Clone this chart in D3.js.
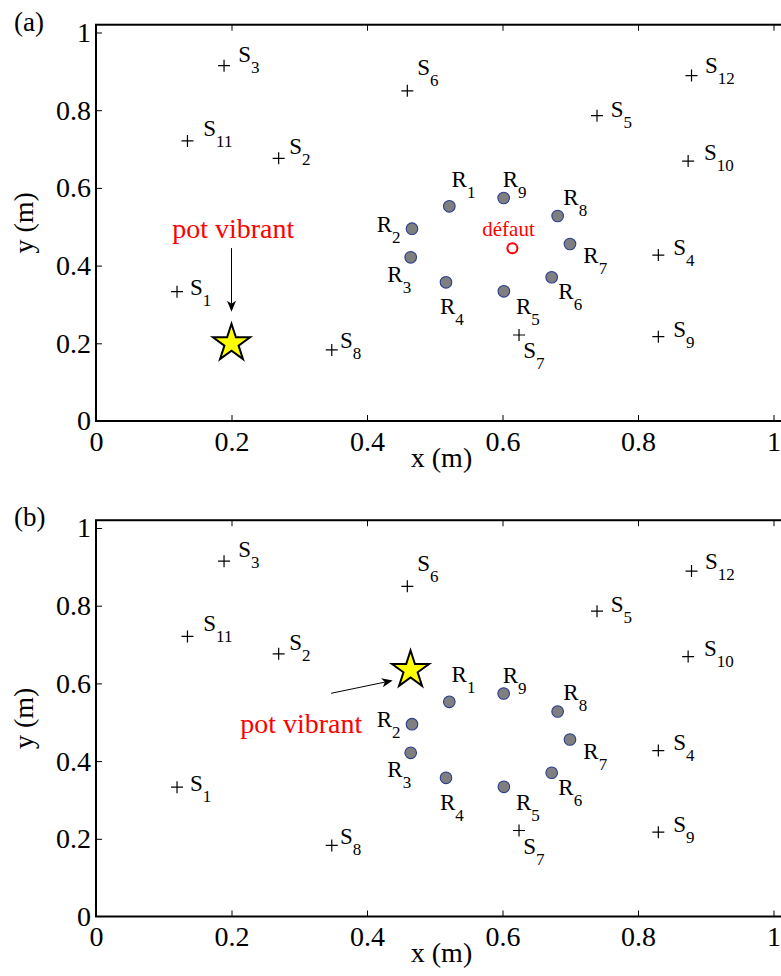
<!DOCTYPE html>
<html><head><meta charset="utf-8">
<script src="https://cdn.jsdelivr.net/npm/d3@7"></script>
<style>
html,body{margin:0;padding:0;background:#fff;}
svg{display:block;font-family:"Liberation Serif","Times New Roman",serif;}
</style></head>
<body>
<svg id="chart" width="781" height="976"></svg>
<script>
// ---- data ----
const tickValues = [0, 0.2, 0.4, 0.6, 0.8, 1];
const tickLabels = ["0", "0.2", "0.4", "0.6", "0.8", "1"];

const sourceNames = ["1","2","3","4","5","6","7","8","9","10","11","12"];
const sourceX = [0.1196, 0.2696, 0.189, 0.830, 0.7395, 0.4595, 0.6244, 0.348, 0.830, 0.874, 0.135, 0.879];
const sourceY = [0.333, 0.676, 0.9146, 0.427, 0.786, 0.850, 0.2214, 0.183, 0.217, 0.669, 0.721, 0.889];
const sourceLabelX = [0.1387, 0.2853, 0.2100, 0.8521, 0.7597, 0.4742, 0.6307, 0.3601, 0.8521, 0.8974, 0.1584, 0.8989];
const sourceLabelY = [0.3243, 0.6865, 0.9249, 0.4273, 0.7833, 0.8906, 0.1614, 0.1871, 0.2170, 0.6718, 0.7344, 0.8950];

const receiverNames = ["1","2","3","4","5","6","7","8","9"];
const receiverX = [0.5215, 0.4664, 0.4645, 0.5166, 0.602, 0.6726, 0.6996, 0.6814, 0.6017];
const receiverY = [0.5526, 0.495, 0.4213, 0.357, 0.3338, 0.370, 0.4556, 0.5277, 0.574];
const receiverLabelX = [0.5249, 0.4143, 0.4300, 0.5077, 0.6199, 0.6824, 0.7193, 0.6898, 0.6003];
const receiverLabelY = [0.6031, 0.4873, 0.3586, 0.2754, 0.2754, 0.3133, 0.4059, 0.5560, 0.6015];

const defectXY = [0.6146, 0.4445];
const defectLabelXY = [0.6089, 0.4762];

const panelNames = ["(a)", "(b)"];
const shakerX = [0.2, 0.4643];
const shakerY = [0.2, 0.6345];
const shakerLabelX = [0.2026, 0.303];
const shakerLabelY = [0.471, 0.472];
const arrowTailX = [0.2, 0.347];
const arrowTailY = [0.445, 0.5745];
const arrowTipX = [0.2, 0.438];
const arrowTipY = [0.281, 0.6075];

// ---- layout ----
const svg = d3.select("#chart");
const xRange = [96, 96 + 677.5 * 1.02];
const panelBottoms = [421, 916.5];
const unitY = 388.5;
const x = d3.scaleLinear().domain([0, 1.02]).range(xRange);

panelNames.forEach((pname, p) => {
  const y0 = panelBottoms[p];
  const y = d3.scaleLinear().domain([0, 1.02]).range([y0, y0 - unitY * 1.02]);
  const g = svg.append("g");

  // axes ticks (inward)
  const fmt = (d) => tickLabels[tickValues.indexOf(d)];
  const axB = g.append("g").attr("transform", `translate(0,${y0})`)
    .call(d3.axisBottom(x).tickValues(tickValues).tickFormat(fmt).tickSizeInner(-6).tickSizeOuter(0).tickPadding(10));
  const axL = g.append("g").attr("transform", `translate(${xRange[0]},0)`)
    .call(d3.axisLeft(y).tickValues(tickValues).tickFormat(fmt).tickSizeInner(-6).tickSizeOuter(0).tickPadding(5));
  const axT = g.append("g").attr("transform", `translate(0,${y(1.02)})`)
    .call(d3.axisTop(x).tickValues(tickValues).tickFormat("").tickSizeInner(-6).tickSizeOuter(0));
  const axR = g.append("g").attr("transform", `translate(${xRange[1]},0)`)
    .call(d3.axisRight(y).tickValues(tickValues).tickFormat("").tickSizeInner(-6).tickSizeOuter(0));
  [axB, axL, axT, axR].forEach(a => {
    a.select(".domain").remove();
    a.selectAll("line").attr("stroke", "#000").attr("stroke-width", 1);
    a.selectAll("text").attr("font-family", "Liberation Serif").attr("font-size", 28).attr("fill", "#000");
  });
  axB.selectAll(".tick").filter(d => d === 0).select("line").remove();
  axL.selectAll(".tick").filter(d => d === 0).select("line").remove();

  // box
  g.append("rect")
    .attr("x", xRange[0]).attr("y", y(1.02))
    .attr("width", xRange[1] - xRange[0]).attr("height", y0 - y(1.02))
    .attr("fill", "none").attr("stroke", "#000").attr("stroke-width", 2);

  // axis labels
  g.append("text").attr("x", (xRange[0] + xRange[1]) / 2).attr("y", y0 + 45.5)
    .attr("text-anchor", "middle").attr("font-size", 28).text("x (m)");
  g.append("text").attr("transform", `translate(33,${(y0 + y(1.02)) / 2}) rotate(-90)`)
    .attr("text-anchor", "middle").attr("font-size", 28).text("y (m)");
  g.append("text").attr("x", 14).attr("y", y(1.02) + 6).attr("font-size", 27).text(pname);

  // sources: plus markers
  const plusR = 6;
  g.selectAll(".src").data(sourceNames).enter().append("path")
    .attr("d", (d, i) => {
      const cx = x(sourceX[i]), cy = y(sourceY[i]);
      return `M${cx - plusR},${cy}H${cx + plusR}M${cx},${cy - plusR}V${cy + plusR}`;
    })
    .attr("stroke", "#000").attr("stroke-width", 1.2).attr("fill", "none");

  const subLabel = (sel, main, names, lx, ly) => {
    const t = sel.selectAll(null).data(names).enter().append("text")
      .attr("x", (d, i) => x(lx[i])).attr("y", (d, i) => y(ly[i]))
      .attr("font-size", 23).attr("fill", "#000");
    t.append("tspan").text(main);
    t.append("tspan").attr("font-size", 17).attr("dy", 11).text(d => d);
  };
  subLabel(g, "S", sourceNames, sourceLabelX, sourceLabelY);

  // receivers
  g.selectAll(".rec").data(receiverNames).enter().append("circle")
    .attr("cx", (d, i) => x(receiverX[i])).attr("cy", (d, i) => y(receiverY[i]))
    .attr("r", 5.8).attr("fill", "#7f7f7f").attr("stroke", "#2a3d8f").attr("stroke-width", 1.1);
  subLabel(g, "R", receiverNames, receiverLabelX, receiverLabelY);

  // defect (only panel a)
  if (p === 0) {
    g.append("circle").attr("cx", x(defectXY[0])).attr("cy", y(defectXY[1]))
      .attr("r", 5).attr("fill", "none").attr("stroke", "#ff0000").attr("stroke-width", 2);
    g.append("text").attr("x", x(defectLabelXY[0])).attr("y", y(defectLabelXY[1]))
      .attr("text-anchor", "middle").attr("font-size", 21).attr("fill", "#ff0000").text("défaut");
  }

  // shaker arrow
  const tx = x(arrowTailX[p]), ty = y(arrowTailY[p]);
  const hx = x(arrowTipX[p]), hy = y(arrowTipY[p]);
  const len = Math.hypot(hx - tx, hy - ty);
  const ux = (hx - tx) / len, uy = (hy - ty) / len;
  const nx = -uy, ny = ux;
  const L = 11, w = 4.5, notch = 3;
  g.append("line").attr("x1", tx).attr("y1", ty)
    .attr("x2", hx - (L - notch) * ux).attr("y2", hy - (L - notch) * uy)
    .attr("stroke", "#000").attr("stroke-width", 1);
  g.append("path")
    .attr("d", `M${hx},${hy}L${hx - L * ux + w * nx},${hy - L * uy + w * ny}L${hx - (L - notch) * ux},${hy - (L - notch) * uy}L${hx - L * ux - w * nx},${hy - L * uy - w * ny}Z`)
    .attr("fill", "#000");

  g.append("text").attr("x", x(shakerLabelX[p])).attr("y", y(shakerLabelY[p]))
    .attr("text-anchor", "middle").attr("font-size", 28).attr("fill", "#ff0000").text("pot vibrant");

  // shaker star
  const R = 19.5;
  g.append("path")
    .attr("transform", `translate(${x(shakerX[p])},${y(shakerY[p])})`)
    .attr("d", d3.symbol().type(d3.symbolStar).size(R * R / 0.8908130915292852)())
    .attr("fill", "#ffff00").attr("stroke", "#000").attr("stroke-width", 2).attr("stroke-linejoin", "miter");
});
</script>
</body></html>
